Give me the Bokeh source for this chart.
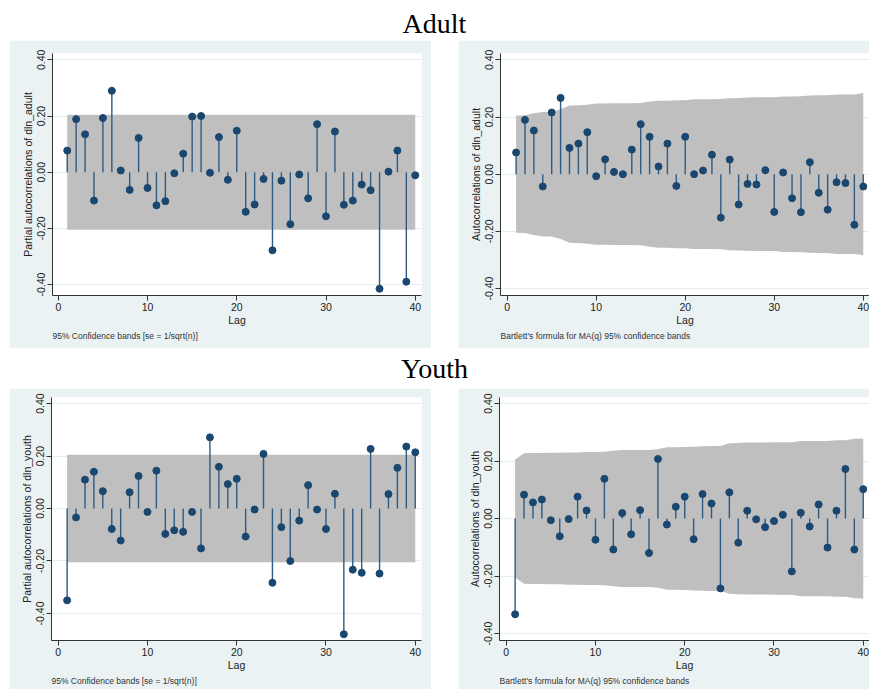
from bokeh.plotting import figure
from bokeh.layouts import column, row
from bokeh.models import Div, Spacer, Range1d, FixedTicker, NumeralTickFormatter, Title
from bokeh.embed import file_html
from bokeh.resources import INLINE

# ---------------- data ----------------
lags = list(range(1, 41))
x_ticks = [0, 10, 20, 30, 40]
y_ticks = [-0.4, -0.2, 0.0, 0.2, 0.4]

adult_pacf = [0.077, 0.189, 0.135, -0.101, 0.193, 0.290, 0.006, -0.063, 0.122, -0.056,
              -0.118, -0.103, -0.004, 0.066, 0.198, 0.200, -0.002, 0.125, -0.027, 0.148,
              -0.141, -0.115, -0.024, -0.278, -0.030, -0.185, -0.008, -0.093, 0.171, -0.157,
              0.145, -0.116, -0.101, -0.044, -0.064, -0.415, 0.002, 0.077, -0.390, -0.011]
adult_pacf_band = 0.205

adult_acf = [0.076, 0.190, 0.153, -0.043, 0.216, 0.267, 0.092, 0.107, 0.147, -0.007,
             0.052, 0.008, 0.000, 0.086, 0.175, 0.131, 0.027, 0.107, -0.041, 0.131,
             0.000, 0.013, 0.068, -0.152, 0.051, -0.106, -0.034, -0.036, 0.014, -0.132,
             0.006, -0.084, -0.133, 0.042, -0.065, -0.124, -0.028, -0.031, -0.177, -0.043]
adult_acf_band = [0.205, 0.206, 0.213, 0.218, 0.218, 0.227, 0.240, 0.241, 0.243, 0.247,
                  0.247, 0.248, 0.248, 0.248, 0.249, 0.254, 0.257, 0.257, 0.259, 0.259,
                  0.262, 0.262, 0.262, 0.263, 0.266, 0.267, 0.268, 0.269, 0.269, 0.269,
                  0.272, 0.272, 0.273, 0.275, 0.276, 0.276, 0.279, 0.279, 0.279, 0.284]

youth_pacf = [-0.350, -0.034, 0.110, 0.140, 0.066, -0.078, -0.122, 0.062, 0.124, -0.013,
              0.144, -0.097, -0.083, -0.089, -0.013, -0.152, 0.271, 0.159, 0.093, 0.113,
              -0.107, -0.004, 0.208, -0.283, -0.071, -0.200, -0.046, 0.089, -0.004, -0.078,
              0.056, -0.479, -0.233, -0.245, 0.227, -0.248, 0.055, 0.155, 0.236, 0.214]
youth_pacf_band = 0.205

youth_acf = [-0.333, 0.083, 0.056, 0.066, -0.006, -0.062, -0.002, 0.076, 0.028, -0.074,
             0.138, -0.108, 0.019, -0.055, 0.029, -0.120, 0.207, -0.021, 0.041, 0.076,
             -0.072, 0.085, 0.052, -0.243, 0.091, -0.084, 0.027, -0.003, -0.030, -0.009,
             0.013, -0.184, 0.020, -0.028, 0.049, -0.101, 0.027, 0.172, -0.108, 0.102]
youth_acf_band = [0.205, 0.227, 0.228, 0.228, 0.229, 0.229, 0.230, 0.230, 0.231, 0.231,
                  0.232, 0.236, 0.238, 0.238, 0.238, 0.238, 0.241, 0.248, 0.248, 0.249,
                  0.250, 0.251, 0.252, 0.252, 0.262, 0.263, 0.264, 0.264, 0.264, 0.265,
                  0.265, 0.265, 0.270, 0.270, 0.270, 0.270, 0.272, 0.272, 0.277, 0.278]

BG = "#EAF2F3"
NAVY = "#1A476F"
BAND = "#BFBFBF"
FONT = "Liberation Sans"


def panel(vals, band, ylabel, note, width, height, x_range, y_range, borders):
    left, right, top, bottom = borders
    p = figure(width=width, height=height, output_backend="svg", toolbar_location=None,
               x_range=Range1d(*x_range), y_range=Range1d(*y_range),
               min_border_left=left, min_border_right=right,
               min_border_top=top, min_border_bottom=bottom)
    p.border_fill_color = BG
    p.background_fill_color = "white"
    p.outline_line_color = None
    lo = [-b for b in band]
    p.varea(x=lags, y1=lo, y2=band, fill_color=BAND)
    p.segment(x0=lags, y0=[0] * len(lags), x1=lags, y1=vals, line_color="#2E5B84", line_width=1.4)
    p.scatter(x=lags, y=vals, size=7, fill_color=NAVY, line_color=NAVY)

    p.xgrid.visible = False
    p.ygrid.ticker = FixedTicker(ticks=y_ticks)
    p.ygrid.grid_line_color = "#E4EEF0"

    for ax in (p.xaxis[0], p.yaxis[0]):
        ax.axis_line_color = "#333333"
        ax.major_tick_line_color = "#333333"
        ax.major_tick_out = 5
        ax.major_tick_in = 0
        ax.minor_tick_line_color = None
        ax.major_label_text_font = FONT
        ax.major_label_text_font_size = "10.5px"
        ax.major_label_text_color = "#222222"
        ax.axis_label_text_font = FONT
        ax.axis_label_text_font_size = "10.5px"
        ax.axis_label_text_font_style = "normal"
        ax.axis_label_text_color = "#222222"
        ax.major_label_standoff = 2
        ax.axis_label_standoff = 1
    p.xaxis.ticker = FixedTicker(ticks=x_ticks)
    p.xaxis.axis_label = "Lag"
    p.xaxis.axis_label_standoff = 0
    p.yaxis.ticker = FixedTicker(ticks=y_ticks)
    p.yaxis.formatter = NumeralTickFormatter(format="0.00")
    p.yaxis.major_label_orientation = "vertical"
    p.yaxis.axis_label = ylabel
    p.add_layout(Title(text=note, align="left", text_font=FONT, text_font_size="8.5px",
                       text_font_style="normal", text_color="#333333", standoff=0), "below")
    return p


p1 = panel(adult_pacf, [adult_pacf_band] * len(lags), "Partial autocorrelations of dln_adult",
           "95% Confidence bands [se = 1/sqrt(n)]", 422, 308,
           (-0.65, 40.7), (-0.439, 0.4227), (43, 10, 13, 53))
p2 = panel(adult_acf, adult_acf_band, "Autocorrelations of dln_adult",
           "Bartlett's formula for MA(q) 95% confidence bands", 411, 308,
           (-0.75, 40.7), (-0.4244, 0.4223), (42, 0, 13, 53))
p3 = panel(youth_pacf, [youth_pacf_band] * len(lags), "Partial autocorrelations of dln_youth",
           "95% Confidence bands [se = 1/sqrt(n)]", 422, 301,
           (-0.75, 40.7), (-0.5029, 0.4229), (42, 10, 9, 49))
p4 = panel(youth_acf, youth_acf_band, "Autocorrelations of dln_youth",
           "Bartlett's formula for MA(q) 95% confidence bands", 411, 301,
           (-0.75, 40.7), (-0.4243, 0.4209), (41, 0, 9, 49))


def title_div(text, h, pad):
    return Div(text=f'<div style="font-family:\'Liberation Serif\'; font-size:28px; line-height:31px; '
                    f'padding-top:{pad}px; padding-left:20px; text-align:center; width:849px; color:#000;">{text}</div>',
               width=869, height=h, margin=(0, 0, 0, 0))


layout = column(
    title_div("Adult", 40, 8),
    row(Spacer(width=9, height=308), p1, Spacer(width=27, height=308), p2, spacing=0),
    title_div("Youth", 40, 5),
    row(Spacer(width=9, height=301), p3, Spacer(width=27, height=301), p4, spacing=0),
    spacing=0,
)

open("out.html", "w").write(file_html(layout, INLINE))
